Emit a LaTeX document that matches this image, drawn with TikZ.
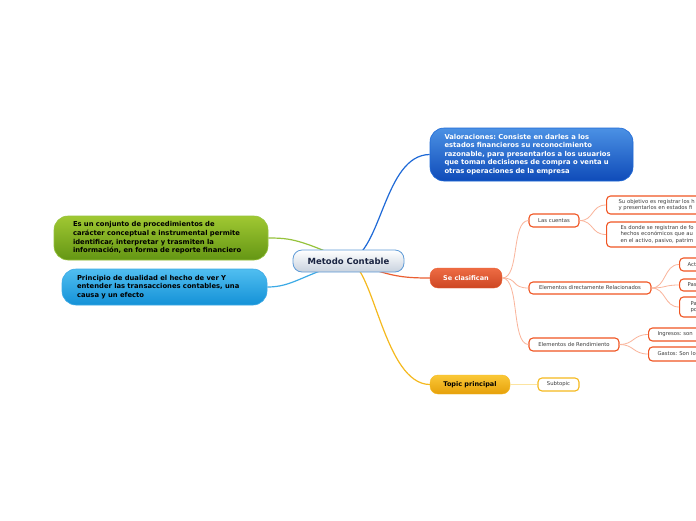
\documentclass[tikz,border=0pt]{standalone}
\usepackage{fontspec}
\setmainfont{DejaVu Sans}
\usetikzlibrary{backgrounds}
\frenchspacing
\definecolor{mcline}{RGB}{95,155,215}
\definecolor{mcbot}{RGB}{200,210,222}
\definecolor{mctext}{RGB}{25,35,65}
\definecolor{vlTop}{RGB}{75,145,228}
\definecolor{vlBot}{RGB}{15,75,185}
\definecolor{vlLine}{RGB}{30,105,215}
\definecolor{grTop}{RGB}{160,200,50}
\definecolor{grBot}{RGB}{100,150,20}
\definecolor{grLine}{RGB}{150,195,60}
\definecolor{cyTop}{RGB}{80,190,240}
\definecolor{cyBot}{RGB}{20,145,215}
\definecolor{cyLine}{RGB}{60,170,230}
\definecolor{scTop}{RGB}{238,108,68}
\definecolor{scBot}{RGB}{205,70,35}
\definecolor{scLine}{RGB}{235,95,50}
\definecolor{tpTop}{RGB}{250,200,55}
\definecolor{tpBot}{RGB}{230,160,10}
\definecolor{tpLine}{RGB}{245,185,30}
\definecolor{leafline}{RGB}{240,85,35}
\definecolor{leaftext}{RGB}{60,60,60}
\definecolor{twigcol}{RGB}{250,180,155}
\definecolor{subline}{RGB}{252,228,160}
\begin{document}
\begin{tikzpicture}[x=1pt,y=-1pt,
  central/.style={draw=mcline, line width=0.8pt, rounded corners=9pt, top color=white, bottom color=mcbot,
    text=mctext, minimum width=111pt, minimum height=22pt, font=\bfseries\fontsize{8.5}{10}\selectfont},
  topic/.style={rounded corners=14pt, align=left, inner ysep=0pt, line width=0.6pt,
    font=\bfseries\fontsize{6.8}{8.6}\selectfont},
  subtopic/.style={rounded corners=8pt, inner sep=0pt, font=\bfseries\fontsize{6.5}{8}\selectfont},
  leaf/.style={draw=leafline, line width=1.1pt, fill=white, rounded corners=4pt, inner sep=0pt,
    text=leaftext, font=\fontsize{5.3}{6.6}\selectfont},
  link/.style={line width=1.2pt},
  twig/.style={draw=twigcol, line width=0.8pt}]
  \useasboundingbox (0,0) rectangle (696,520);
  \clip (0,0) rectangle (696,520);
  \begin{scope}[on background layer]
    \fill[white] (0,0) rectangle (696,520);
  \end{scope}
  % Centre
  \node[central] (mc) at (348.5,261) {Metodo Contable};
  % Main topics
  \node[topic, top color=vlTop, bottom color=vlBot, draw=vlLine, text=white, text width=174pt,
    inner xsep=14.5pt, minimum height=53pt] (vl) at (531.5,154.5)
    {Valoraciones: Consiste en darles a los\\ estados financieros su reconocimiento\\
     razonable, para presentarlos a los usuarios\\ que toman decisiones de compra o venta u\\
     otras operaciones de la empresa};
  \node[topic, top color=grTop, bottom color=grBot, draw=grLine, text=black, text width=176pt,
    inner xsep=19pt, minimum height=44pt] (gr) at (161,238)
    {Es un conjunto de procedimientos de\\ carácter conceptual e instrumental permite\\
     identificar, interpretar y trasmiten la\\ información, en forma de reporte financiero};
  \node[topic, top color=cyTop, bottom color=cyBot, draw=cyLine, text=black, text width=175pt,
    inner xsep=15pt, minimum height=36pt] (cy) at (164.5,287)
    {Principio de dualidad el hecho de ver Y\\ entender las transacciones contables, una\\
     causa y un efecto};
  \node[subtopic, top color=scTop, bottom color=scBot, draw=scLine, text=white,
    minimum width=72pt, minimum height=20pt] (sc) at (466,278) {Se clasifican};
  \node[subtopic, top color=tpTop, bottom color=tpBot, draw=tpLine, text=black,
    minimum width=80pt, minimum height=19pt] (tp) at (470,384.5) {Topic principal};
  % Leaves
  \node[leaf, minimum width=50pt, minimum height=13pt] (lc) at (554,220.5) {Las cuentas};
  \node[leaf, anchor=west, align=left, text width=130pt, inner xsep=12pt, minimum height=18pt] (so)
    at (606,205) {Su objetivo es registrar los h\\ y presentarlos en estados fi};
  \node[leaf, anchor=west, align=left, text width=130pt, inner xsep=14pt, minimum height=25pt] (ed)
    at (606,234.5) {Es donde se registran de fo\\ hechos económicos que au\\ en el activo, pasivo, patrim};
  \node[leaf, minimum width=122pt, minimum height=12pt] (er) at (590,288) {Elementos directamente Relacionados};
  \node[leaf, anchor=west, align=left, text width=40pt, inner xsep=8pt, minimum height=13pt] (ac)
    at (679,264.5) {Acti};
  \node[leaf, anchor=west, align=left, text width=40pt, inner xsep=8pt, minimum height=12pt] (pa)
    at (679,285) {Pas};
  \node[leaf, anchor=west, align=left, text width=40pt, inner xsep=11pt, minimum height=20pt] (pt)
    at (679,307) {Pa\\ po};
  \node[leaf, minimum width=90pt, minimum height=13pt] (rd) at (574,344.5) {Elementos de Rendimiento};
  \node[leaf, anchor=west, align=left, text width=80pt, inner xsep=9pt, minimum height=13pt] (in)
    at (648,334.5) {Ingresos: son};
  \node[leaf, anchor=west, align=left, text width=80pt, inner xsep=9pt, minimum height=14pt] (ga)
    at (648,354) {Gastos: Son lo};
  \node[leaf, draw=tpLine, minimum width=41pt, minimum height=13pt] (st) at (558.5,384.5) {Subtopic};
  % Connectors
  \begin{scope}[on background layer]
    \draw[link, vlLine] (mc.center) .. controls (382,252) and (384,155) .. (vl.west);
    \draw[link, grLine] (mc.center) .. controls (300,240) and (292,238) .. (gr.east);
    \draw[link, cyLine] (mc.center) .. controls (300,276) and (292,287) .. (cy.east);
    \draw[link, scLine] (mc.center) .. controls (390,276) and (400,278) .. (sc.west);
    \draw[link, tpLine] (mc.center) .. controls (374,266) and (384,384) .. (tp.west);
  \end{scope}
  \draw[twig] (sc.east) .. controls (520,278) and (511,221) .. (lc.west);
  \draw[twig] (sc.east) .. controls (518,278) and (511,288) .. (er.west);
  \draw[twig] (sc.east) .. controls (520,278) and (511,344) .. (rd.west);
  \draw[twig] (lc.east) .. controls (594,221) and (591,205) .. (so.west);
  \draw[twig] (lc.east) .. controls (594,221) and (591,234.5) .. (ed.west);
  \draw[twig] (er.east) .. controls (666,288) and (664,264.5) .. (ac.west);
  \draw[twig] (er.east) .. controls (666,288) and (664,285) .. (pa.west);
  \draw[twig] (er.east) .. controls (666,288) and (664,307) .. (pt.west);
  \draw[twig] (rd.east) .. controls (634,344.5) and (633,334.5) .. (in.west);
  \draw[twig] (rd.east) .. controls (634,344.5) and (633,354) .. (ga.west);
  \draw[subline, line width=1.5pt] (tp.east) -- (st.west);
\end{tikzpicture}
\end{document}
